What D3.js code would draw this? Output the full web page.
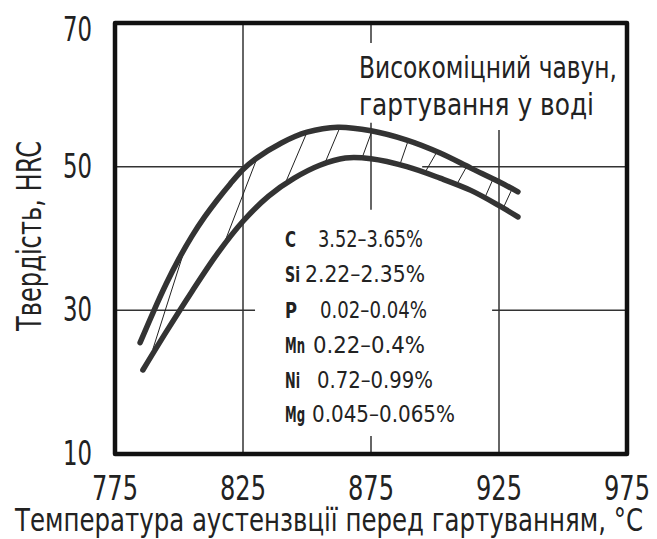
<!DOCTYPE html>
<html lang="uk">
<head>
  <meta charset="UTF-8" />
  <title>Твердість HRC</title>
  <script src="https://d3js.org/d3.v7.min.js"></script>
  <style>
    body { margin: 0; background: #fff; }
    svg text {
      font-family: 'Liberation Sans Narrow', 'DejaVu Sans Condensed', sans-serif;
      fill: #222;
    }
    .curve { fill: none; stroke: #333; stroke-width: 5.5; stroke-linecap: round; stroke-linejoin: round; }
    .hatch { stroke: #222; stroke-width: 1; }
    .grid { stroke: #333; stroke-width: 1.5; }
    .frame { fill: none; stroke: #111; stroke-width: 4.5; stroke-linejoin: round; }
    .elem { font-weight: 700; }
  </style>
</head>
<body>
<div id="chart"></div>
<script>
  // x ticks / y ticks
  const xTicks = [775, 825, 875, 925, 975];
  const yTicks = [10, 30, 50, 70];

  // upper curve (temperature, HRC)
  const upperT = [784.8, 790, 795, 800, 805, 810, 815, 820, 825, 830, 840, 850, 862, 875, 889, 902, 914, 925, 932.4];
  const upperH = [25.5, 29.8, 33.7, 37.2, 40.3, 43.0, 45.4, 47.6, 49.6, 51.1, 53.3, 54.8, 55.5, 55.0, 53.7, 51.9, 49.8, 47.9, 46.5];

  // lower curve
  const lowerT = [785.9, 795, 805, 815, 825, 835, 845, 855, 865, 875, 889, 902, 914, 925.4, 932.4];
  const lowerH = [21.7, 27.0, 32.6, 37.9, 42.4, 45.9, 48.4, 50.2, 51.2, 51.1, 50.0, 48.4, 46.7, 44.5, 43.0];

  // hatch strokes between the curves: [T low, HRC low, T high, HRC high]
  const hatches = [
    [789.8, 24.6, 802.3, 38.6],
    [817.2, 38.9, 830.5, 51.2],
    [841.4, 47.6, 850.0, 54.8],
    [857.0, 50.5, 862.9, 55.5],
    [871.5, 51.2, 875.4, 55.0],
    [886.3, 50.3, 889.5, 53.6],
    [896.1, 49.2, 900.8, 52.1],
    [908.6, 47.6, 912.5, 50.1],
    [919.5, 45.7, 922.7, 48.3],
    [926.6, 44.2, 930.1, 46.9]
  ];

  // grid pieces (they are broken around the curves and text)
  const vGrid = [[825, 10, 70], [875, 67.2, 70], [875, 44.0, 56.1], [875, 10, 12.5], [925, 10, 55.1]];
  const hGrid = [[50, 775, 825], [50, 895, 975], [30, 775, 829.7], [30, 922.3, 975]];

  const elements = ["C", "Si", "P", "Mn", "Ni", "Mg"];
  const ranges = ["3.52–3.65%", "2.22–2.35%", "0.02–0.04%", "0.22–0.4%", "0.72–0.99%", "0.045–0.065%"];

  const noteLines = ["Високоміцний чавун,", "гартування у воді"];
  const xTitle = "Температура аустензвції перед гартуванням, °С";
  const yTitle = "Твердість, HRC";

  const W = 657, H = 539;
  const margin = { left: 115, right: 30, top: 23, bottom: 85 };

  const svg = d3.select("#chart").append("svg")
    .attr("width", W).attr("height", H);

  const x = d3.scaleLinear().domain([775, 975]).range([margin.left, 627]);
  const y = d3.scaleLinear().domain([10, 70]).range([454, margin.top]);

  // grid
  svg.selectAll(".vg").data(vGrid).enter().append("line")
    .attr("class", "grid")
    .attr("x1", d => x(d[0])).attr("x2", d => x(d[0]))
    .attr("y1", d => y(d[1])).attr("y2", d => y(d[2]));
  svg.selectAll(".hg").data(hGrid).enter().append("line")
    .attr("class", "grid")
    .attr("y1", d => y(d[0])).attr("y2", d => y(d[0]))
    .attr("x1", d => x(d[1])).attr("x2", d => x(d[2]));

  // frame
  svg.append("rect").attr("class", "frame")
    .attr("x", x(775)).attr("y", y(70))
    .attr("width", x(975) - x(775)).attr("height", y(10) - y(70));

  // hatching
  svg.selectAll(".hatch").data(hatches).enter().append("line")
    .attr("class", "hatch")
    .attr("x1", d => x(d[0])).attr("y1", d => y(d[1]))
    .attr("x2", d => x(d[2])).attr("y2", d => y(d[3]));

  // curves
  const line = d3.line().x(d => x(d[0])).y(d => y(d[1])).curve(d3.curveCatmullRom);
  svg.append("path").attr("class", "curve").attr("d", line(d3.zip(upperT, upperH)));
  svg.append("path").attr("class", "curve").attr("d", line(d3.zip(lowerT, lowerH)));

  // tick labels (top one sits a bit lower in the original)
  svg.selectAll(".ytl").data(yTicks).enter().append("text")
    .attr("x", 92).attr("y", d => y(d) + (d === 70 ? 18 : 11))
    .attr("text-anchor", "end")
    .attr("font-size", 34)
    .attr("textLength", 29).attr("lengthAdjust", "spacingAndGlyphs")
    .text(d => d);

  svg.selectAll(".xtl").data(xTicks).enter().append("text")
    .attr("x", d => x(d)).attr("y", 500)
    .attr("text-anchor", "middle")
    .attr("font-size", 34)
    .attr("textLength", 46).attr("lengthAdjust", "spacingAndGlyphs")
    .text(d => d);

  // axis titles
  svg.append("text")
    .attr("x", 329).attr("y", 531)
    .attr("text-anchor", "middle")
    .attr("font-size", 32)
    .attr("textLength", 628).attr("lengthAdjust", "spacingAndGlyphs")
    .text(xTitle);

  svg.append("text")
    .attr("transform", "translate(41,331) rotate(-90)")
    .attr("font-size", 33)
    .attr("textLength", 190).attr("lengthAdjust", "spacingAndGlyphs")
    .text(yTitle);

  // note
  const noteW = [258, 235];
  svg.selectAll(".note").data(noteLines).enter().append("text")
    .attr("x", 359).attr("y", (d, i) => 78 + i * 37)
    .attr("font-size", 30)
    .attr("textLength", (d, i) => noteW[i]).attr("lengthAdjust", "spacingAndGlyphs")
    .text(d => d);

  // composition
  const rowY = [247, 282, 318, 353, 388, 422];
  const valX = [318, 305, 320, 313, 317, 312];
  const valW = [105, 120, 107, 112, 116, 143];
  const elemW = [11, 15, 12, 20, 15, 20];
  svg.selectAll(".elem").data(elements).enter().append("text")
    .attr("class", "elem")
    .attr("x", 285).attr("y", (d, i) => rowY[i])
    .attr("font-size", 22)
    .attr("textLength", (d, i) => elemW[i]).attr("lengthAdjust", "spacingAndGlyphs")
    .text(d => d);
  svg.selectAll(".rng").data(ranges).enter().append("text")
    .attr("x", (d, i) => valX[i]).attr("y", (d, i) => rowY[i])
    .attr("font-size", 23)
    .attr("textLength", (d, i) => valW[i]).attr("lengthAdjust", "spacingAndGlyphs")
    .text(d => d);
</script>
</body>
</html>
